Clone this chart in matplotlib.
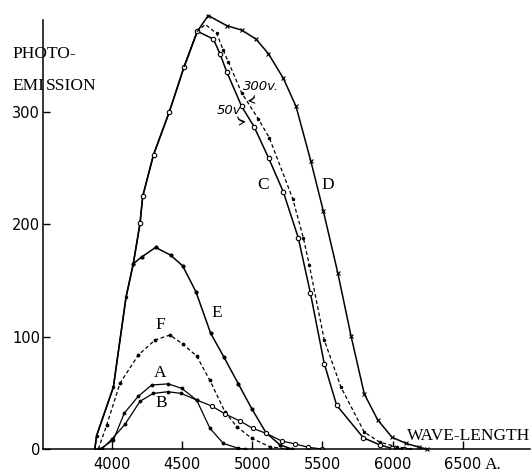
import matplotlib.pyplot as plt
import numpy as np

# Datos (longitud de onda en A, fotoemision)
rise_wl = [3880, 3893, 4012, 4102, 4154, 4202, 4221, 4298, 4410, 4515, 4610]
rise_v = [0, 12, 55, 135, 165, 201, 225, 262, 300, 340, 372]

C_wl = [4724, 4771, 4819, 4926, 5014, 5118, 5222, 5329, 5415, 5514, 5602, 5792, 5911, 5994, 6080]
C_v = [365, 352, 336, 305, 287, 259, 229, 188, 139, 76, 39, 10, 3.6, 0.6, 0]

D_wl = [4688, 4819, 4926, 5028, 5116, 5223, 5313, 5419, 5507, 5610, 5704, 5799, 5894, 5996, 6096, 6191, 6243]
D_v = [386, 377, 373, 365, 352, 330, 305, 256, 212, 157, 101, 49, 26, 10.5, 5, 1.5, 0]

V300_wl = [4515, 4610, 4667, 4748, 4795, 4830, 4926, 5044, 5123, 5289, 5365, 5407, 5514, 5633, 5799, 5911, 6030, 6125]
V300_v = [340, 372, 378, 370, 355, 345, 317, 294, 277, 223, 188, 164, 97, 55, 15, 6, 2, 0]

E_wl = [4154, 4214, 4313, 4420, 4506, 4600, 4705, 4800, 4902, 4997, 5099, 5199, 5282]
E_v = [165, 171, 179.5, 172.6, 163, 140, 103, 81.7, 58, 36, 14.5, 3.6, 0]

F_wl = [3905, 3964, 4059, 4190, 4308, 4415, 4506, 4605, 4700, 4807, 4890, 4997, 5127, 5250]
F_v = [0, 21, 58.5, 83.7, 97, 101.5, 93.5, 82.8, 61, 33, 20, 9.5, 2, 0]

A_wl = [3917, 4012, 4090, 4190, 4285, 4403, 4499, 4605, 4700, 4795, 4902, 4950]
A_v = [0, 8, 32, 47, 57, 58, 54, 43.6, 18.4, 5, 0.6, 0]

B_wl = [3930, 4000, 4095, 4202, 4296, 4400, 4495, 4605, 4712, 4807, 4914, 5004, 5099, 5211, 5306, 5400, 5496]
B_v = [0, 8.6, 22, 42.5, 49.5, 51, 49.5, 43.6, 38.3, 31.2, 24.9, 18.4, 14, 7.1, 4.5, 1.5, 0]

x_ticks = [4000, 4500, 5000, 5500, 6000, 6500]
y_ticks = [0, 100, 200, 300]

W, H = 532, 473
fig = plt.figure(figsize=(W / 100, H / 100), dpi=100)
ax = fig.add_axes([43 / W, 24 / H, 487 / W, 439 / H])
ax.set_xlim(3511, 6979)
ax.set_ylim(0, 390.9)

for s in ['top', 'right']:
    ax.spines[s].set_visible(False)
ax.spines['left'].set_bounds(0, 382)
ax.spines['left'].set_linewidth(1.1)
ax.spines['bottom'].set_linewidth(1.1)

num_font = dict(family='DejaVu Sans', size=10.5)
let_font = dict(family='Liberation Serif', size=12.5)

ax.set_xticks(x_ticks)
ax.set_xticklabels([str(t) for t in x_ticks], **num_font)
ax.set_yticks(y_ticks)
ax.set_yticklabels([str(t) for t in y_ticks], **num_font)
ax.tick_params(axis='x', direction='in', length=6, width=1, pad=6)
ax.tick_params(axis='y', direction='in', length=5, width=1, pad=2)

lw = 1.1
# curvas C y D (comparten la subida)
ax.plot(rise_wl + C_wl, rise_v + C_v, color='black', lw=lw, clip_on=False)
ax.plot(rise_wl + D_wl, rise_v + D_v, color='black', lw=lw, clip_on=False)
ax.plot(rise_wl[5:] + C_wl, rise_v[5:] + C_v, 'o', ms=3.2, mfc='white', mec='black', mew=0.8)
ax.plot(D_wl, D_v, 'x', ms=3, color='black', mew=0.8, clip_on=False)
ax.plot(rise_wl[1:5], rise_v[1:5], '.', ms=3, color='black')

# 300 v (discontinua)
ax.plot(V300_wl, V300_v, color='black', lw=0.9, ls=(0, (3, 2)), clip_on=False)
ax.plot(V300_wl[3:], V300_v[3:], '.', ms=3, color='black')

# E, F, A, B
ax.plot(E_wl, E_v, color='black', lw=lw, marker='.', ms=4)
ax.plot(F_wl, F_v, color='black', lw=0.9, ls=(0, (3, 2)), marker='.', ms=3.5)
ax.plot(A_wl, A_v, color='black', lw=0.9, marker='.', ms=3.5)
ax.plot(B_wl, B_v, color='black', lw=0.9)
ax.plot(B_wl[:8], B_v[:8], '.', ms=3.5, color='black')
ax.plot(B_wl[8:], B_v[8:], 'o', ms=3, mfc='white', mec='black', mew=0.8)

# etiquetas de las curvas
for lab, x, y in [('A', 4344, 67.7), ('B', 4356, 40.7), ('F', 4344, 110.4),
                  ('E', 4748, 120.8), ('C', 5078, 235), ('D', 5538, 235)]:
    ax.text(x, y, lab, ha='center', va='center', **let_font)

ax.text(4935, 320, '300v.', ha='left', va='baseline', family='DejaVu Sans',
        size=9.5, style='italic')
ax.text(4751, 298, '50v', ha='left', va='baseline', family='DejaVu Sans',
        size=9.5, style='italic')
ax.annotate('', xy=(4950, 310), xytext=(5021, 317),
            arrowprops=dict(arrowstyle='->', lw=0.8, connectionstyle='arc3,rad=-0.5'))
ax.annotate('', xy=(4975, 292), xytext=(4890, 298),
            arrowprops=dict(arrowstyle='->', lw=0.8, connectionstyle='arc3,rad=0.5'))

fig.text(12 / W, 1 - 58 / H, 'PHOTO-', ha='left', va='baseline', **let_font)
fig.text(12 / W, 1 - 90 / H, 'EMI', ha='left', va='baseline', **let_font)
fig.text(46 / W, 1 - 90 / H, 'SSION', ha='left', va='baseline', **let_font)
fig.text(407 / W, 1 - 440 / H, 'WAVE-LENGTH', ha='left', va='baseline', **let_font)
fig.text(485 / W, 1 - 469 / H, 'A.', ha='left', va='baseline', **let_font)

fig.savefig('out.png', dpi=100)
